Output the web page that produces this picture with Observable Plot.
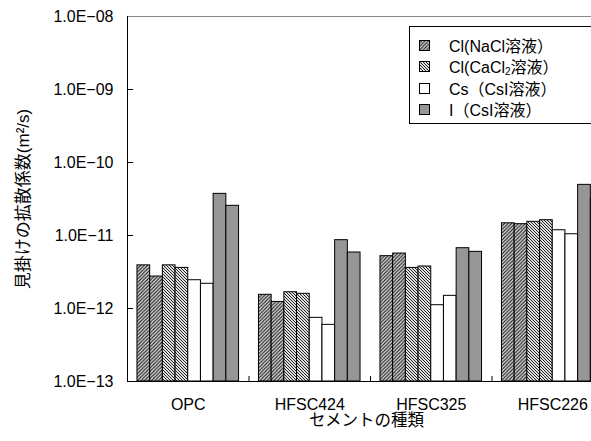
<!DOCTYPE html>
<html>
<head>
<meta charset="utf-8">
<script src="https://cdn.jsdelivr.net/npm/d3@7"></script>
<script src="https://cdn.jsdelivr.net/npm/@observablehq/plot@0.6"></script>
<style>
  html, body { margin: 0; padding: 0; background: #fff; overflow: hidden; width: 591px; height: 441px; }
  #wrap { position: relative; width: 620px; height: 441px; }
  #legend { position: absolute; left: 409px; top: 26px; width: 200px; height: 98px; border: 1px solid #000; background: #fff;
            font-family: "Liberation Sans", "Noto Sans CJK JP", sans-serif; font-size: 16px; color: #000; box-sizing: border-box; }
  .row { position: absolute; left: 0; height: 20px; display: flex; align-items: center; }
  .row svg { margin-left: 9px; }
  .row span { margin-left: 19px; white-space: nowrap; }
  sub { font-size: 10px; vertical-align: -2px; }
</style>
</head>
<body>
<div id="wrap"><div id="chart"></div><div id="legend"></div></div>
<script>
const categories = ["OPC", "HFSC424", "HFSC325", "HFSC226"];
const seriesNames = ["Cl(NaCl溶液）", "Cl(CaCl₂溶液）", "Cs（CsI溶液）", "I（CsI溶液）"];
// two measurements per series per cement type
const clNaCl  = [[3.9e-12, 2.74e-12], [1.54e-12, 1.23e-12], [5.21e-12, 5.66e-12], [1.47e-11, 1.43e-11]];
const clCaCl2 = [[3.9e-12, 3.6e-12],  [1.67e-12, 1.59e-12], [3.6e-12, 3.76e-12],  [1.54e-11, 1.62e-11]];
const csCsI   = [[2.44e-12, 2.18e-12],[7.45e-13, 5.97e-13], [1.11e-12, 1.49e-12], [1.18e-11, 1.04e-11]];
const iCsI    = [[3.72e-11, 2.55e-11],[8.63e-12, 5.85e-12], [6.70e-12, 5.97e-12], [4.94e-11, 3.18e-11]];
const yTicks = [1e-13, 1e-12, 1e-11, 1e-10, 1e-9, 1e-8];
const fills = ["url(#pNaCl)", "url(#pCaCl2)", "#ffffff", "#969696"];

const allSeries = [clNaCl, clCaCl2, csCsI, iCsI];
const w = 0.1045, pad = (1 - 8 * w) / 2;
const rows = [];
allSeries.forEach((s, si) => s.forEach((pair, ci) => pair.forEach((v, r) => {
  const k = si * 2 + r;
  rows.push({series: si, cat: ci, x1: ci + pad + k * w, x2: ci + pad + (k + 1) * w, base: 1e-13, v});
})));

const fmt = d => { const e = Math.round(Math.log10(d)); return "1.0E" + (e < 0 ? "−" : "+") + String(Math.abs(e)).padStart(2, "0"); };
const font = "'Liberation Sans', 'Noto Sans CJK JP', sans-serif";

const chart = Plot.plot({
  width: 620, height: 441,
  marginLeft: 127, marginRight: 7, marginTop: 16, marginBottom: 60,
  x: {domain: [0, 4], axis: null},
  y: {type: "log", domain: [1e-13, 1e-8], axis: null},
  style: {fontFamily: font, fontSize: "16px", background: "#fff", color: "#000", overflow: "visible"},
  marks: [
    Plot.frame({anchor: "top", stroke: "#888"}),
    ...[0, 1, 2, 3].map(si => Plot.rect(rows.filter(d => d.series === si), {
      x1: "x1", x2: "x2", y1: "base", y2: "v", fill: fills[si], stroke: "#000", strokeWidth: 1
    })),
    Plot.ruleY(yTicks.slice(1, -1), {insetRight: 480, stroke: "#000"}),
    Plot.ruleX([1, 2, 3], {insetTop: 360, stroke: "#000"}),
    Plot.ruleX([0], {stroke: "#000"}),
    Plot.ruleY([1e-13], {stroke: "#000"}),
    Plot.axisY({ticks: yTicks, tickFormat: fmt, tickSize: 0, tickPadding: 14, label: null, fontSize: 16}),
    Plot.axisX({ticks: [0.5, 1.5, 2.5, 3.5], tickFormat: d => categories[Math.floor(d)], tickSize: 0, tickPadding: 17, label: null, fontSize: 16}),
    Plot.text(["見掛けの拡散係数(m²/s)"], {frameAnchor: "left", dx: -104, rotate: -90, textAnchor: "middle", lineAnchor: "middle", fontSize: 17, text: d => d}),
    Plot.text(["セメントの種類"], {x: 2, frameAnchor: "bottom", dy: 39, dx: -4, lineAnchor: "middle", fontSize: 16.5, text: d => d})
  ]
});

// hatch patterns
const ns = "http://www.w3.org/2000/svg";
const defs = document.createElementNS(ns, "defs");
defs.innerHTML = `
  <pattern id="pNaCl" patternUnits="userSpaceOnUse" width="3.5" height="3.5">
    <rect width="3.5" height="3.5" fill="#e0e0e0"/>
    <path d="M-1,1 l2,-2 M0,3.5 l3.5,-3.5 M2.5,4.5 l2,-2" stroke="#222" stroke-width="1.1"/>
  </pattern>
  <pattern id="pCaCl2" patternUnits="userSpaceOnUse" width="3" height="3">
    <rect width="3" height="3" fill="#e0e0e0"/>
    <path d="M-1,2 l2,2 M0,0 l3,3 M2,-1 l2,2" stroke="#222" stroke-width="1"/>
  </pattern>`;
chart.insertBefore(defs, chart.firstChild);
document.getElementById("chart").appendChild(chart);

// legend
const legend = document.getElementById("legend");
const tops = [8, 29, 51, 72];
const labelsHTML = ["Cl(NaCl溶液）", "Cl(CaCl<sub>2</sub>溶液）", "Cs（CsI溶液）", "I（CsI溶液）"];
seriesNames.forEach((name, i) => {
  const row = document.createElement("div");
  row.className = "row";
  row.style.top = tops[i] + "px";
  row.innerHTML = `<svg width="11" height="11"><rect x="0.5" y="0.5" width="10" height="10" fill="${fills[i]}" stroke="#000"/></svg><span>${labelsHTML[i]}</span>`;
  row.title = name;
  legend.appendChild(row);
});
</script>
</body>
</html>
